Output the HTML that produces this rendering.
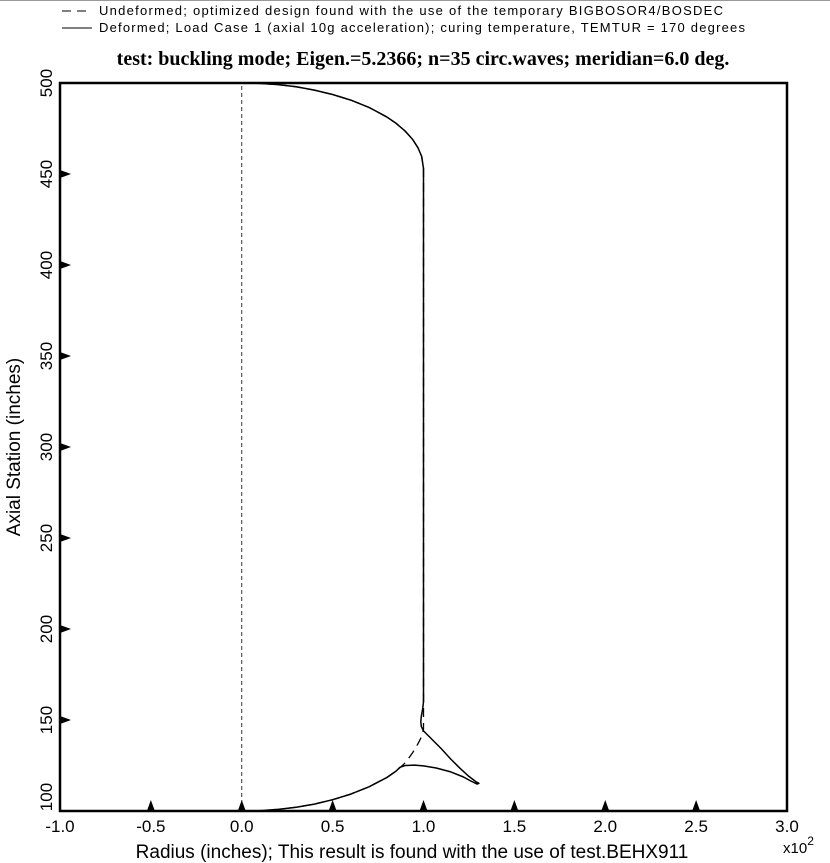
<!DOCTYPE html>
<html><head><meta charset="utf-8"><style>
html,body{margin:0;padding:0;background:#fff;}
svg{display:block;font-family:"Liberation Sans",sans-serif;}
</style></head><body>
<svg id="chart" width="830" height="863" viewBox="0 0 830 863" xmlns="http://www.w3.org/2000/svg">
<line x1="0" y1="0.5" x2="830" y2="0.5" stroke="#999"/>
<g>
<line x1="62" y1="11" x2="92" y2="11" stroke="#000" stroke-dasharray="9,6"/>
<text x="99" y="15" font-size="13" textLength="624" lengthAdjust="spacing">Undeformed; optimized design found with the use of the temporary BIGBOSOR4/BOSDEC</text>
<line x1="62" y1="28" x2="92" y2="28" stroke="#000"/>
<text x="99" y="32" font-size="13" textLength="646" lengthAdjust="spacing">Deformed; Load Case 1 (axial 10g acceleration); curing temperature, TEMTUR = 170 degrees</text>
</g>
<text x="423" y="65" font-size="20" font-weight="bold" text-anchor="middle" font-family="Liberation Serif,serif">test: buckling mode; Eigen.=5.2366; n=35 circ.waves; meridian=6.0 deg.</text>
<rect x="60" y="83" width="727" height="728" fill="none" stroke="#000" stroke-width="2.5"/>
<g id="ticks"></g>
<g id="series"></g>
<text x="412" y="858" font-size="19" text-anchor="middle">Radius (inches); This result is found with the use of test.BEHX911</text>
<text x="783" y="853" font-size="15">x10<tspan font-size="12" dy="-8">2</tspan></text>
<text transform="translate(20,447) rotate(-90)" font-size="19" text-anchor="middle">Axial Station (inches)</text>
</svg>
<script>
const xTicks=[-1.0,-0.5,0.0,0.5,1.0,1.5,2.0,2.5,3.0];
const yTicks=[100,150,200,250,300,350,400,450,500];
const undefR=[0,0.1,0.2,0.3,0.4,0.5,0.6,0.7,0.8,0.85,0.9,0.94,0.97,0.99,1.0,1.0,0.99,0.97,0.94,0.9,0.85,0.8,0.7,0.6,0.5,0.4,0.3,0.2,0.1,0];
const undefZ=[100,100.2,100.9,102.1,103.8,106.2,109.3,113.3,118.5,122,126.5,132,137,141,145,453,459.6,464.4,469,473.5,477.8,481.2,486.6,490.6,493.7,496.1,497.9,499.1,499.8,500];
const axisR=[0,0];
const axisZ=[100,500];
const defR=[0,0.1,0.2,0.3,0.4,0.5,0.6,0.7,0.8,0.85,0.9,0.94,0.97,0.99,1.0,1.0,0.995,0.988,0.985,0.988,0.995,1.0,1.05,1.1,1.15,1.2,1.25,1.29,1.305,1.295,1.26,1.22,1.15,1.07,1.0,0.95,0.9,0.87,0.85,0.8,0.7,0.6,0.5,0.4,0.3,0.2,0.13];
const defZ=[500,499.8,499.1,497.9,496.1,493.7,490.6,486.6,481.2,477.8,473.5,469,464.4,459.6,453,160,156,152,149,146.5,145,144,139,134,128.5,123.5,119,116,115.2,114.8,116.5,118.7,121.5,123.6,124.8,125.2,125,124,122,118.5,113.3,109.3,106.2,103.8,102.1,100.9,100.4];
const NS='http://www.w3.org/2000/svg';
const X=v=>60+(v+1)*727/4;
const Y=v=>811-(v-100)*728/400;
const tg=document.getElementById('ticks'), sg=document.getElementById('series');
function mk(t,a,p){const e=document.createElementNS(NS,t);for(const k in a)e.setAttribute(k,a[k]);p.appendChild(e);return e;}
xTicks.forEach(v=>{
  const x=X(v);
  if(v>-1&&v<3){const tri=mk('polygon',{points:`${x-4},811 ${x+4},811 ${x},800`,fill:'#000'},tg);
  
  }
  const t=mk('text',{x:x,y:832,'font-size':17,'text-anchor':'middle'},tg);t.textContent=v.toFixed(1);
  
  
});
yTicks.forEach(v=>{
  const y=Y(v);
  if(v>100&&v<500){const tri=mk('polygon',{points:`60,${y-4} 60,${y+4} 71,${y}`,fill:'#000'},tg);
  
  }
  const t=mk('text',{transform:`translate(52,${v==100?y-14:y}) rotate(-90)`,'font-size':17,'text-anchor':'middle'},tg);t.textContent=v;
  
  
});
function line(R,Z,dash,w,name){
  const pts=R.map((r,i)=>X(r).toFixed(1)+','+Y(Z[i]).toFixed(1)).join(' ');
  const p=mk('polyline',{points:pts,fill:'none',stroke:'#000','stroke-width':w,'stroke-linejoin':'round'},sg);
  if(dash)p.setAttribute('stroke-dasharray',dash);
  
  
}
line(axisR,axisZ,'4,3',0.8,'axis-of-revolution');
line(undefR,undefZ,'9,6',1.3,'undeformed-series');
line(defR,defZ,null,1.5,'deformed-series');
</script>
</body></html>
